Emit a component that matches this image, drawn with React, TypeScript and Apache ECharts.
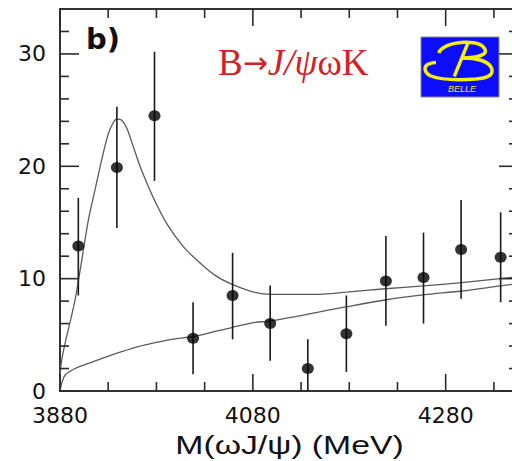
import React, { useEffect, useRef } from "react";
import * as echarts from "echarts";

// Data points (M in MeV, events / bin)
const massPts = [3899, 3939, 3978, 4018, 4059, 4098, 4137, 4177, 4218, 4257, 4296, 4337];
const counts = [12.9, 19.9, 24.5, 4.7, 8.5, 6.0, 2.0, 5.1, 9.8, 10.1, 12.6, 11.9];
const errHigh = [17.2, 25.3, 30.2, 7.9, 12.3, 9.4, 4.6, 8.5, 13.8, 14.1, 17.0, 15.9];
const errLow = [8.5, 14.5, 18.7, 1.5, 4.6, 2.7, -0.6, 1.7, 5.8, 6.0, 8.2, 7.9];

// Total fit curve (signal + background)
const fitMass = [3880, 3881, 3895.6, 3909.4, 3916.3, 3923.3, 3930.1, 3935.3, 3938.8, 3944, 3949.2, 3956, 3963, 3971.6, 3978.5, 3990.7, 4007.9, 4025.2, 4042.5, 4059.8, 4083.3, 4098.6, 4146.3, 4177.4, 4217.1, 4256.9, 4296.7, 4336.4, 4355];
const fitTotal = [0, 2.3, 8.1, 15.2, 17.9, 20.6, 22.9, 23.9, 24.2, 24.1, 23.4, 21.75, 20.0, 18.2, 16.9, 14.9, 12.85, 11.4, 10.2, 9.45, 8.75, 8.6, 8.6, 8.8, 9.1, 9.35, 9.65, 10.0, 10.15];

// Background curve
const bgMass = [3880, 3881.8, 3885.2, 3895.6, 3909.4, 3926.7, 3944, 3961.2, 3978.5, 3995.9, 4018.3, 4040.8, 4058.1, 4082.3, 4098.6, 4177.4, 4217.1, 4256.9, 4296.7, 4336.4, 4355];
const bgVals = [0, 0.7, 1.4, 2.0, 2.45, 3.0, 3.5, 3.95, 4.3, 4.6, 4.85, 5.3, 5.65, 6.1, 6.23, 7.5, 8.1, 8.55, 8.9, 9.35, 9.55];

// Axis ticks
const xMajorTicks = [3880, 4080, 4280];
const xMinorTicks = [3930, 3980, 4030, 4130, 4180, 4230, 4330];
const yMajorTicks = [0, 10, 20, 30];
const yMinorTicks = [2, 4, 6, 8, 12, 14, 16, 18, 22, 24, 26, 28, 32];

const X_MIN = 3880;
const X_MAX = 4355;
const Y_MIN = 0;
const Y_MAX = 34;

const BELLE_B =
  "M17.7 16 C20 10 30 6 42.7 5.3 C52 5 62 6 64.3 13.3 C66 19 52 21 41 21 M46.7 6.7 L33.3 39.3 M41 21 C55 21 69 24 71 32.7 C72 39 65 41 55 42 C40 43 20 43 10 39 C3 36 2 29 8 27 C10 26 13 25.5 15 25.5";

let registered = false;

export default function App() {
  const ref = useRef<HTMLDivElement>(null);
  useEffect(() => {
    if (!ref.current) return;
    if (!registered) {
      echarts.graphic.registerShape("belleB", echarts.graphic.extendPath(BELLE_B, {}));
      registered = true;
    }
    const chart = echarts.init(ref.current, null, { renderer: "svg" });
    const axisColor = "#333";
    const labelFont = { fontFamily: "DejaVu Sans", fontSize: 22, color: "#111" };
    const plain = (v: number) => String(v);

    // grid size in px (container 530 x 461, grid left 60 / right 12 / top 9 / bottom 70)
    const GRID_W = 530 - 60 - 12;
    const GRID_H = 461 - 9 - 70;
    const xPerPx = (X_MAX - X_MIN) / GRID_W;
    const yPerPx = (Y_MAX - Y_MIN) / GRID_H;
    const MAJOR = 17;
    const MINOR = 9;

    const mkX = (pos: string, labels: boolean) => ({
      type: "value",
      position: pos,
      min: X_MIN,
      max: X_MAX,
      interval: 200,
      axisLine: { show: true, onZero: false, lineStyle: { color: axisColor, width: 2 } },
      axisTick: { show: false },
      axisLabel: labels ? { ...labelFont, margin: 13, showMaxLabel: false, formatter: plain } : { show: false },
      splitLine: { show: false },
    });
    const mkY = (pos: string, labels: boolean) => ({
      type: "value",
      position: pos,
      min: Y_MIN,
      max: Y_MAX,
      interval: 10,
      axisLine: { show: true, onZero: false, lineStyle: { color: axisColor, width: 2 } },
      axisTick: { show: false },
      axisLabel: labels ? { ...labelFont, margin: 14, showMaxLabel: false, formatter: plain } : { show: false },
      splitLine: { show: false },
    });

    // Vertical tick segments: [x, yFrom, yTo]
    const vTicks: number[][] = [];
    xMajorTicks.forEach((v) => {
      vTicks.push([v, Y_MIN, Y_MIN + MAJOR * yPerPx]);
      vTicks.push([v, Y_MAX - MAJOR * yPerPx, Y_MAX]);
    });
    xMinorTicks.forEach((v) => {
      vTicks.push([v, Y_MIN, Y_MIN + MINOR * yPerPx]);
      vTicks.push([v, Y_MAX - MINOR * yPerPx, Y_MAX]);
    });
    // Horizontal tick segments: [xFrom, xTo, y]
    const hTicks: number[][] = [];
    yMajorTicks.forEach((v) => {
      hTicks.push([X_MIN, X_MIN + (MAJOR + 2) * xPerPx, v]);
      hTicks.push([X_MAX - (MAJOR + 2) * xPerPx, X_MAX, v]);
    });
    yMinorTicks.forEach((v) => {
      hTicks.push([X_MIN, X_MIN + MINOR * xPerPx, v]);
      hTicks.push([X_MAX - MINOR * xPerPx, X_MAX, v]);
    });

    chart.setOption({
      animation: false,
      backgroundColor: "#fff",
      grid: { left: 60, top: 9, right: 12, bottom: 70 },
      xAxis: [mkX("bottom", true), mkX("top", false)],
      yAxis: [mkY("left", true), mkY("right", false)],
      series: [
        {
          type: "line",
          xAxisIndex: 0,
          yAxisIndex: 0,
          data: fitMass.map((m, i) => [m, fitTotal[i]]),
          showSymbol: false,
          smooth: 0.3,
          lineStyle: { color: "#5a5a5a", width: 1.3 },
          z: 2,
        },
        {
          type: "line",
          xAxisIndex: 0,
          yAxisIndex: 0,
          data: bgMass.map((m, i) => [m, bgVals[i]]),
          showSymbol: false,
          smooth: 0.3,
          lineStyle: { color: "#5a5a5a", width: 1.3 },
          z: 2,
        },
        {
          type: "custom",
          xAxisIndex: 0,
          yAxisIndex: 0,
          data: massPts.map((m, i) => [m, errLow[i], errHigh[i]]),
          encode: { x: 0, y: [1, 2] },
          renderItem: (params: any, api: any) => {
            const x = api.value(0);
            const lo = Math.max(api.value(1), Y_MIN);
            const hi = api.value(2);
            const p1 = api.coord([x, lo]);
            const p2 = api.coord([x, hi]);
            return {
              type: "line",
              shape: { x1: p1[0], y1: p1[1], x2: p2[0], y2: p2[1] },
              style: { stroke: "#1a1a1a", lineWidth: 1.6 },
            };
          },
          z: 3,
        },
        {
          type: "custom",
          xAxisIndex: 0,
          yAxisIndex: 0,
          data: vTicks,
          encode: { x: 0, y: [1, 2] },
          renderItem: (params: any, api: any) => {
            const x = api.value(0);
            const p1 = api.coord([x, api.value(1)]);
            const p2 = api.coord([x, api.value(2)]);
            return {
              type: "line",
              shape: { x1: p1[0], y1: p1[1], x2: p2[0], y2: p2[1] },
              style: { stroke: "#2a2a2a", lineWidth: 1.6 },
            };
          },
          z: 3,
        },
        {
          type: "custom",
          xAxisIndex: 0,
          yAxisIndex: 0,
          data: hTicks,
          encode: { x: [0, 1], y: 2 },
          renderItem: (params: any, api: any) => {
            const y = api.value(2);
            const p1 = api.coord([api.value(0), y]);
            const p2 = api.coord([api.value(1), y]);
            return {
              type: "line",
              shape: { x1: p1[0], y1: p1[1], x2: p2[0], y2: p2[1] },
              style: { stroke: "#2a2a2a", lineWidth: 1.6 },
            };
          },
          z: 3,
        },
        {
          type: "scatter",
          xAxisIndex: 0,
          yAxisIndex: 0,
          data: massPts.map((m, i) => [m, counts[i]]),
          symbol: "circle",
          symbolSize: [12, 11],
          itemStyle: { color: "#000" },
          z: 4,
        },
      ],
      graphic: [
        {
          type: "text",
          x: 86,
          y: 24,
          style: {
            text: "b)",
            font: "bold 29px 'DejaVu Sans'",
            fill: "#111",
            align: "left",
            verticalAlign: "top",
            textAlign: "left",
            textVerticalAlign: "top",
          },
        },
        {
          type: "text",
          x: 218,
          y: 62,
          style: {
            text: "{a|B}{c|→}{b|J/ψ}{a|ωK}",
            fill: "#d42027",
            align: "left",
            verticalAlign: "middle",
            textAlign: "left",
            textVerticalAlign: "middle",
            rich: {
              a: { font: "37px 'Liberation Serif'", fill: "#d42027", color: "#d42027" },
              b: { font: "italic 37px 'Liberation Serif'", fill: "#d42027", color: "#d42027" },
              c: { font: "30px 'DejaVu Sans'", fill: "#d42027", color: "#d42027" },
            },
          },
        },
        {
          type: "rect",
          shape: { x: 421, y: 37, width: 78, height: 60 },
          style: { fill: "#0c0cff", stroke: "#8a8a8a", lineWidth: 1 },
        },
        {
          type: "belleB",
          x: 421,
          y: 37,
          style: { fill: "none", stroke: "#f2ee10", lineWidth: 3.5 },
        },
        {
          type: "text",
          x: 462,
          y: 88.5,
          style: {
            text: "BELLE",
            font: "italic 9px 'Liberation Sans'",
            fill: "#f2ee10",
            align: "center",
            verticalAlign: "middle",
            textAlign: "center",
            textVerticalAlign: "middle",
          },
        },
        {
          type: "text",
          x: 289.5,
          y: 445,
          scaleX: 1.35,
          style: {
            text: "M(ωJ/ψ) (MeV)",
            font: "25px 'Liberation Sans'",
            fill: "#111",
            align: "center",
            verticalAlign: "middle",
            textAlign: "center",
            textVerticalAlign: "middle",
          },
        },
      ],
    });

    return () => chart.dispose();
  }, []);

  return (
    <div style={{ position: "fixed", left: 0, top: 0, width: 512, height: 461, overflow: "hidden", background: "#fff" }}>
      <div ref={ref} style={{ width: 530, height: 461 }} />
    </div>
  );
}
